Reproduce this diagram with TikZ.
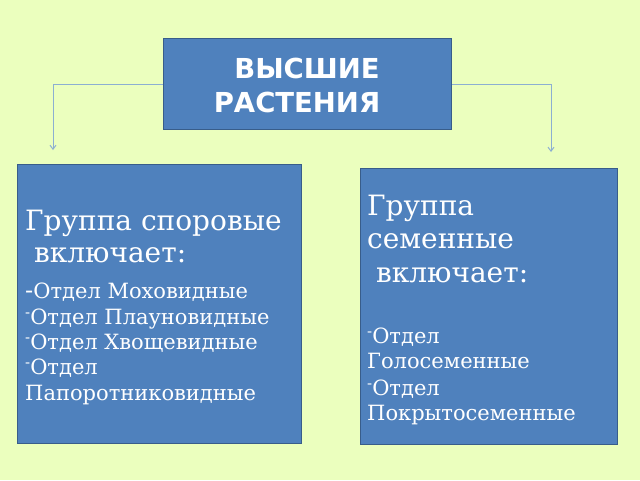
\documentclass[tikz,border=0pt]{standalone}
\usepackage{fontspec}
\setmainfont{DejaVu Serif}
\newfontfamily\titlefont{DejaVu Sans}
\usetikzlibrary{arrows.meta}
\definecolor{bgc}{RGB}{235,255,190}
\definecolor{boxfill}{RGB}{79,129,189}
\definecolor{boxline}{RGB}{56,93,138}
\definecolor{connc}{RGB}{140,175,210}
\tikzset{
  box/.style={draw=boxline, line width=1.2pt, fill=boxfill, anchor=north west, inner sep=0pt},
  conn/.style={draw=connc, line width=1pt, -{Straight Barb[length=4pt,width=6pt]}},
  bigtxt/.style={anchor=base west, text=white, inner sep=0pt, font=\fontsize{28}{32}\selectfont},
  smalltxt/.style={anchor=base west, text=white, inner sep=0pt, font=\fontsize{21}{24}\selectfont},
  titletxt/.style={anchor=base, text=white, inner sep=0pt, font=\titlefont\bfseries\fontsize{27.5}{30}\selectfont}
}
\newcommand{\sdash}{\raisebox{0.3em}{\fontsize{15}{15}\selectfont -}}
\begin{document}
\begin{tikzpicture}[x=1pt,y=-1pt]
\fill[bgc] (0,0) rectangle (640,480);
\useasboundingbox (0,0) rectangle (640,480);
% boxes
\node[box, minimum width=288pt, minimum height=91pt] (top) at (163,38) {};
\node[box, minimum width=284pt, minimum height=279pt] (left) at (17,164) {};
\node[box, minimum width=257pt, minimum height=276pt] (right) at (360,168) {};
% title
\node[titletxt] (t1) at (307,78) {ВЫСШИЕ};
\node[titletxt] (t2) at (297,112) {РАСТЕНИЯ};
% connectors
\coordinate (la) at (53,150);
\coordinate (ra) at (551,152);
\draw[conn] (top.west) -| (la);
\draw[conn] (top.east) -| (ra);
% left text
\node[bigtxt] (l1) at (25,230) {Группа споровые};
\node[bigtxt] (l2) at (25,262) {\ включает:};
\node[smalltxt] (l3) at (25,298) {{\fontsize{24}{24}\selectfont -}Отдел Моховидные};
\node[smalltxt] (l4) at (25,324) {\sdash Отдел Плауновидные};
\node[smalltxt] (l5) at (25,349) {\sdash Отдел Хвощевидные};
\node[smalltxt] (l6) at (25,374) {\sdash Отдел};
\node[smalltxt] (l7) at (25,400) {Папоротниковидные};
% right text
\node[bigtxt] (r1) at (367,215) {Группа};
\node[bigtxt] (r2) at (367,248) {семенные};
\node[bigtxt] (r3) at (367,282) {\ включает:};
\node[smalltxt] (r4) at (367,343) {\sdash Отдел};
\node[smalltxt] (r5) at (367,368) {Голосеменные};
\node[smalltxt] (r6) at (367,395) {\sdash Отдел};
\node[smalltxt] (r7) at (367,420) {Покрытосеменные};
\end{tikzpicture}
\end{document}
